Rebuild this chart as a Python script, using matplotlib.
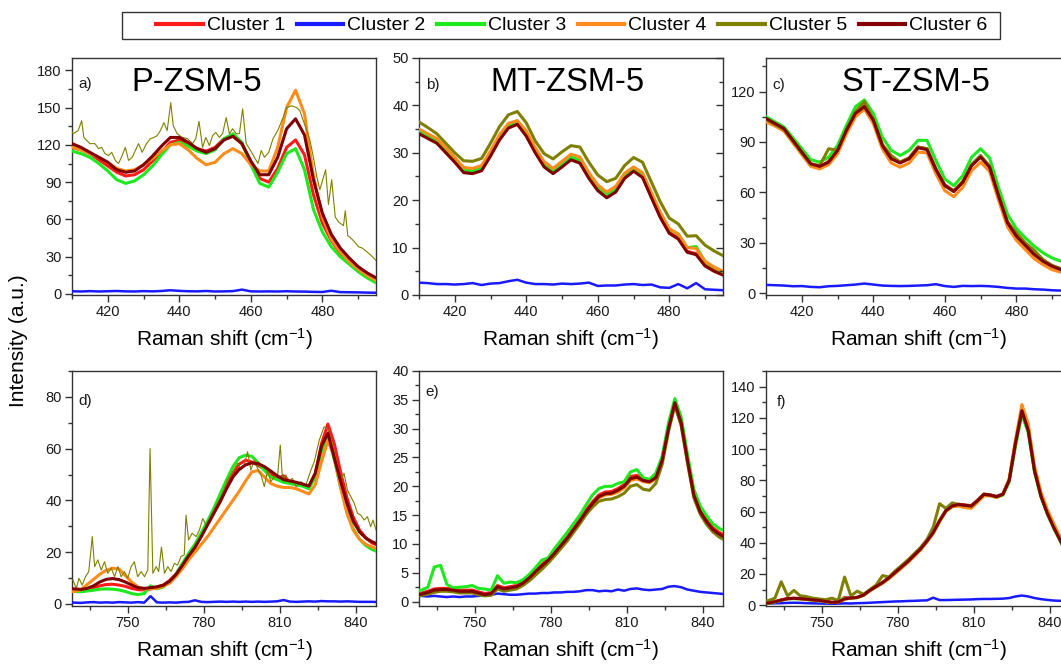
import matplotlib
matplotlib.use("Agg")
import matplotlib.pyplot as plt
from matplotlib.ticker import MultipleLocator
from matplotlib.lines import Line2D
from matplotlib.patches import Rectangle
import numpy as np

plt.rcParams["font.family"] = ["Liberation Sans", "DejaVu Sans"]
plt.rcParams["mathtext.fontset"] = "custom"
plt.rcParams["mathtext.rm"] = "Liberation Sans"
plt.rcParams["mathtext.default"] = "regular"

cluster_names = ["Cluster 1", "Cluster 2", "Cluster 3", "Cluster 4", "Cluster 5", "Cluster 6"]
cluster_colors = ["#ff1a1a", "#1a1aff", "#1ee81e", "#ff8c1a", "#808000", "#800000"]

# Raman shift grids (cm-1)
shift_low = np.arange(410, 495.1, 2.5)
shift_high = np.arange(726.5, 849.1, 2.5)

# ---- P-ZSM-5, 410-495 region ----
p_low_c1 = [118, 116, 113, 108, 103, 98, 95, 96, 100, 107, 114, 122, 124, 121, 117, 115, 118, 125, 127, 121,
            106, 93, 90, 101, 118, 124, 112, 80, 57, 43, 33, 26, 20, 15, 11]
p_low_c2 = [2.2, 2.0, 2.3, 2.0, 2.2, 2.4, 2.1, 2.0, 2.3, 2.1, 2.4, 3.0, 2.5, 2.2, 2.1, 2.4, 2.0, 2.1, 2.3, 3.5,
            2.1, 2.0, 2.1, 2.0, 2.2, 2.0, 1.9, 1.7, 1.6, 2.6, 1.5, 1.4, 1.3, 1.1, 1.0]
p_low_c3 = [115, 113, 110, 105, 99, 92, 89, 91, 96, 103, 112, 120, 122, 119, 115, 113, 116, 125, 129, 122,
            104, 89, 86, 98, 113, 117, 100, 68, 50, 38, 30, 24, 18, 13, 9]
p_low_c4 = [118, 116, 113, 110, 106, 101, 99, 100, 104, 109, 115, 120, 121, 116, 109, 104, 106, 113, 117, 113,
            104, 99, 99, 118, 150, 164, 145, 95, 62, 44, 34, 26, 20, 15, 11]
p_low_c6 = [121, 118, 114, 110, 106, 100, 98, 99, 104, 111, 119, 126, 126, 122, 117, 114, 117, 124, 127, 121,
            107, 96, 96, 110, 133, 141, 128, 92, 65, 48, 37, 29, 22, 17, 13]
# cluster 5 is a noisy single spectrum, sampled on its own points
p_low_c5_x = [409.0, 410.3, 411.7, 412.7, 413.3, 415.0, 416.4, 417.4, 418.3, 419.2, 420.2, 421.1, 422.1, 423.0,
              423.9, 424.9, 425.8, 426.8, 427.7, 428.6, 429.6, 430.8, 431.9, 432.9, 433.8, 434.7, 435.7, 436.6,
              437.6, 438.3, 439.4, 440.8, 442.3, 443.7, 444.6, 445.5, 446.5, 447.4, 448.4, 449.3, 450.2, 451.2,
              452.1, 453.1, 454.0, 454.9, 455.9, 456.8, 457.7, 458.7, 459.6, 461.0, 462.0, 462.9, 463.8, 465.0,
              466.2, 467.6, 469.0, 470.0, 471.4, 472.8, 473.7, 474.6, 475.6, 476.5, 477.5, 478.4, 479.3, 480.9,
              481.7, 482.6, 483.6, 484.5, 485.9, 486.4, 487.1, 488.1, 489.0, 490.1, 491.1, 492.0, 493.0, 494.0,
              495.0]
p_low_c5_y = [135.5, 129, 131.5, 139.5, 126, 121, 121, 117, 118, 113, 111.5, 114, 107.5, 105, 110.7, 118, 107.5,
              110, 115.5, 121, 114, 121, 125, 126, 127.5, 131.5, 138, 131.5, 154, 135.5, 129, 126, 125, 121, 125,
              139, 118, 126, 119.5, 127.5, 130, 126, 129, 142, 129, 133, 129, 129, 149, 121, 117, 110, 105, 115.5,
              110, 114, 125, 132, 142, 150, 151.5, 150, 147.6, 140, 132, 124, 110, 95, 84, 100, 72, 92, 62, 58,
              55, 67, 47, 44.6, 42, 38, 37, 35, 32.6, 30, 27]

# ---- MT-ZSM-5, 410-495 region ----
mt_low_c1 = [34.2, 33.2, 32.1, 30.2, 28.2, 26, 25.8, 26.4, 29.5, 32.9, 35.4, 36.2, 33.7, 30.2, 27.2, 25.8, 27.2,
             28.7, 28, 24.8, 22.2, 20.7, 21.9, 24.8, 26.3, 25, 20.7, 16.5, 13.2, 12, 9.2, 8.7, 6.3, 5.2, 4.4]
mt_low_c2 = [2.6, 2.5, 2.3, 2.3, 2.2, 2.3, 2.5, 2.1, 2.4, 2.5, 2.9, 3.2, 2.6, 2.3, 2.3, 2.2, 2.4, 2.3, 2.4, 2.6,
             1.9, 2.0, 2.0, 2.2, 2.3, 2.1, 2.2, 1.6, 1.5, 2.3, 1.4, 2.5, 1.2, 1.1, 1.0]
mt_low_c3 = [34.6, 33.6, 32.6, 30.7, 28.6, 26.4, 26.2, 26.8, 29.9, 33.3, 35.8, 36.6, 34.1, 30.6, 27.6, 26.2, 27.6,
             29.1, 28.4, 25.2, 22.7, 21.2, 22.4, 25.3, 26.8, 25.5, 21.2, 17.1, 13.8, 12.9, 10, 10.2, 7, 5.8, 4.8]
mt_low_c4 = [35, 34, 33, 31.1, 29, 26.9, 26.7, 27.3, 30.4, 33.8, 36.2, 36.8, 34.6, 31.1, 28.1, 26.7, 28.2,
             29.7, 29.1, 25.8, 23.2, 21.7, 22.9, 25.7, 27, 25.8, 21.6, 17.4, 14, 12.8, 10, 9.8, 7.1, 5.9, 5]
mt_low_c5 = [36.5, 35.3, 34, 32, 30, 28.3, 28.2, 28.8, 32, 35.5, 38, 38.7, 36.3, 32.5, 29.8, 28.7, 30.2, 31.5,
             31.2, 28, 25.3, 23.9, 24.6, 27.3, 29, 28, 23.8, 19.6, 16.2, 15, 12.4, 12.5, 10.5, 9.3, 8.3]
mt_low_c6 = [34, 33, 32, 30, 28, 25.8, 25.6, 26.2, 29.3, 32.7, 35.2, 36, 33.5, 30, 27, 25.6, 27, 28.5, 27.8,
             24.6, 22, 20.5, 21.7, 24.6, 26.1, 24.8, 20.5, 16.3, 13, 11.8, 9, 8.5, 6.1, 5, 4.2]

# ---- ST-ZSM-5, 410-495 region ----
st_low_c1 = [103, 100.5, 97.5, 90.5, 83.5, 77, 75, 78.5, 85.5, 97.5, 107.5, 111.5, 103.5, 88.5, 80.5, 78, 80.5,
             87, 86, 74, 64.5, 61, 66.5, 76.5, 81.5, 75.5, 58.5, 42.5, 34.5, 29, 23.5, 19.5, 16.5, 14.5, 13]
st_low_c2 = [5.0, 4.8, 4.6, 4.2, 4.3, 3.8, 3.6, 4.2, 4.4, 4.8, 5.2, 5.8, 5.2, 4.6, 4.4, 4.3, 4.4, 4.6, 4.8, 5.4,
             4.3, 3.8, 4.4, 4.3, 4.4, 4.2, 3.8, 3.2, 2.8, 2.8, 2.4, 2.2, 1.8, 1.6, 1.5]
st_low_c3 = [105, 102, 99, 92.5, 86, 79.5, 78, 81, 88, 100, 111, 115, 107, 93, 85, 82, 85, 91, 91, 79, 68, 64,
             70, 81, 86, 80.5, 63, 47, 38.5, 33, 28, 24, 21, 19, 17.5]
st_low_c4 = [102, 99.5, 96.5, 89.5, 82.5, 75.5, 74, 76.5, 83, 95, 105, 109.5, 101, 86, 77.5, 75, 77.5, 84, 83.5,
             71, 61, 57.5, 63, 73, 78, 72.5, 55.5, 39.5, 31.5, 26, 20.5, 17, 14, 12.5, 11]
st_low_c5 = [103.5, 100.5, 97.5, 90.5, 83.5, 77, 76, 86, 85, 97.5, 108, 114, 103, 88.5, 82, 78, 80.5, 87, 86,
             74, 64, 61, 66, 76.5, 82, 75.5, 58.5, 42.5, 36, 30, 25.5, 20, 16.5, 14.5, 13]
st_low_c6 = [104, 101, 98, 91, 84, 77, 75.5, 78, 85, 97, 107, 111, 103, 88, 80, 77.5, 80, 86.5, 85.5, 73.5, 64,
             60.5, 66, 76, 81, 75, 58, 42, 34, 28.5, 23, 19, 16, 14, 12.5]

# ---- P-ZSM-5, 728-848 region ----
p_high_c1 = [5.5, 5.2, 5.3, 5.7, 6.3, 7, 7.5, 7.6, 7.3, 6.8, 6, 5.5, 5.4, 5.8, 6.5, 7.3, 9, 11.5, 15, 18.7,
             22, 26.3, 31, 35.8, 40.5, 45.8, 50.5, 54, 55.5, 54.8, 53.5, 52, 50, 48.5, 49.5, 47, 46.5, 46, 45.5,
             50, 62, 69.5, 62, 51, 41, 33.5, 28.5, 25.5, 23.5, 22.5]
p_high_c2 = [0.6, 0.5, 0.4, 0.6, 0.7, 0.5, 0.6, 0.5, 0.7, 0.6, 0.5, 0.7, 0.5, 3.0, 0.6, 0.5, 0.6, 0.5, 0.7, 0.8,
             1.4, 0.8, 0.7, 0.8, 0.9, 0.8, 0.9, 0.8, 0.9, 0.8, 0.9, 0.8, 0.9, 1.0, 1.5, 0.9, 0.8, 0.9, 1.0, 0.9,
             1.1, 1.0, 1.0, 0.9, 1.0, 0.9, 0.8, 0.8, 0.8, 0.7]
p_high_c3 = [5, 4.8, 4.7, 5, 5.3, 5.7, 5.8, 5.7, 5.4, 4.8, 4, 3.6, 4, 7, 5.8, 6.5, 8.5, 11.5, 15.5, 19.5, 23,
             27.5, 32, 37, 42.5, 48, 53, 56.5, 57.5, 57, 54.5, 51.5, 49, 48, 47, 46.5, 46, 45.5, 44.5, 49, 59, 65,
             56, 45, 36, 29, 25, 22.5, 21, 20]
p_high_c4 = [5, 4.8, 5.5, 7.5, 9.5, 11.5, 13, 13.8, 13.5, 11, 8.5, 6.5, 5.8, 5.8, 6, 6.8, 8, 10.5, 13.5, 17, 20,
             23, 26, 29.5, 33, 36.5, 40, 43.5, 47.5, 51, 51.5, 49, 46.5, 45.5, 45, 45, 44.5, 43.5, 42.5, 46, 55,
             63, 57, 45, 35, 28.5, 25, 23, 22, 21]
p_high_c6 = [6, 5.8, 5.6, 6, 7, 8.5, 9.5, 9.8, 9.4, 8.5, 7.3, 6.3, 6, 6.3, 6.6, 7.2, 8.8, 11.3, 14.8, 18.5,
             21.8, 26, 30.5, 35, 39.5, 44.5, 49, 52, 53.7, 54.5, 54.2, 53, 51.3, 49.5, 48, 47.5, 47, 46.3, 45.5,
             50.5, 61, 66, 56.5, 47.5, 39, 32, 27.8, 25.4, 24, 23]
p_high_c5_x = [728.3, 729.7, 730.7, 732.0, 733.3, 734.6, 736.0, 736.9, 738.2, 739.5, 740.8, 742.1, 743.5, 744.8,
               746.1, 747.4, 748.7, 750.0, 751.3, 752.6, 753.9, 755.3, 756.6, 757.9, 758.8, 759.9, 761.2, 762.2,
               763.3, 764.5, 765.8, 767.1, 768.4, 769.7, 771.0, 772.3, 773.0, 774.0, 775.4, 777.0, 778.3, 779.6,
               780.9, 782.2, 784.8, 787.4, 789.4, 791.4, 793.4, 794.7, 796.0, 797.3, 798.6, 799.9, 801.2, 802.6,
               803.9, 805.2, 806.5, 807.8, 809.1, 810.2, 811.1, 812.4, 813.7, 815.0, 816.4, 818.3, 820.3, 822.3,
               823.6, 825.6, 827.5, 828.8, 830.2, 831.5, 832.8, 834.1, 835.4, 836.7, 838.1, 839.4, 840.7, 842.0,
               843.3, 844.6, 845.9, 846.8, 848.0]
p_high_c5_y = [9.3, 6, 9.9, 7.3, 10.5, 12.5, 26, 14.4, 17, 13.1, 16.3, 11.8, 13.8, 10.5, 14.4, 10.5, 12.5, 9.9,
               14.4, 16.3, 10.5, 12.5, 10.5, 13.1, 60, 11.8, 14.4, 12.5, 22, 11.8, 14.4, 12.5, 15.7, 15, 18.3,
               18.9, 34.3, 24.7, 27.3, 26, 28.6, 33, 30.5, 33, 38, 42.7, 47.9, 51, 54.3, 51.7, 53.6, 58.8, 51.7,
               55.6, 52.4, 49.8, 45.3, 51.7, 47.2, 49.1, 49.1, 61.4, 47.9, 49.8, 47.2, 48.5, 45.3, 47.2, 45.9,
               51.7, 54.9, 63.3, 68.4, 67.8, 64, 58.8, 53, 47.9, 50.4, 44, 41.4, 38.9, 35, 34.3, 32.4, 33.7, 29.8,
               32.4, 28.6]

# ---- MT-ZSM-5, 728-848 region ----
mt_high_c1 = [1.3, 1.5, 1.8, 2.2, 2.3, 2.3, 2.2, 2.0, 2.0, 2.0, 1.7, 1.4, 1.6, 2.8, 2.4, 2.6, 2.8, 3.4, 4.3, 5.4,
              6.4, 7.4, 8.6, 9.9, 11.2, 12.7, 14.3, 15.9, 17.3, 18.5, 19.0, 19.1, 19.6, 20.3, 21.7, 21.9, 21.3,
              21.1, 21.8, 24.8, 30.3, 34.7, 31.3, 24.8, 18.8, 15.9, 14.2, 12.8, 12.0, 11.4]
mt_high_c2 = [1.0, 1.0, 0.9, 1.0, 0.9, 0.8, 0.9, 0.8, 0.9, 0.9, 1.0, 1.1, 1.2, 1.4, 1.3, 1.2, 1.2, 1.3, 1.4, 1.4,
              1.5, 1.5, 1.6, 1.6, 1.7, 1.7, 1.8, 2.0, 2.0, 1.8, 1.9, 1.8, 2.1, 1.9, 2.2, 2.3, 2.1, 2.0, 2.1, 2.2,
              2.6, 2.7, 2.5, 2.1, 1.9, 1.7, 1.6, 1.5, 1.4, 1.3]
mt_high_c3 = [1.9, 2.0, 2.5, 6.0, 6.3, 3.0, 2.4, 2.5, 2.6, 2.8, 2.3, 2.2, 2.0, 4.5, 3.2, 3.4, 3.3, 3.8, 4.7, 5.9,
              7.2, 7.6, 9.2, 10.6, 12, 13.5, 15, 16.8, 18.5, 19.6, 20, 20, 20.5, 20.8, 22.5, 22.9, 21.5, 21.2,
              22.3, 25.2, 31, 35.2, 32, 25.5, 19.5, 16.6, 14.9, 13.5, 12.7, 12.2]
mt_high_c4 = [1.0, 1.2, 1.5, 1.9, 2.0, 2.0, 1.9, 1.7, 1.7, 1.7, 1.4, 1.1, 1.3, 2.4, 2.1, 2.3, 2.5, 3.1, 4.0, 5.1,
              6.1, 7.1, 8.3, 9.6, 10.9, 12.4, 13.9, 15.5, 16.8, 18.0, 18.5, 18.6, 19.0, 19.7, 21.0, 21.3, 20.8,
              20.6, 21.3, 24.3, 29.8, 34.2, 30.8, 24.3, 18.3, 15.4, 13.7, 12.3, 11.5, 10.9]
mt_high_c5 = [0.9, 1.1, 1.3, 1.6, 1.8, 1.8, 1.7, 1.5, 1.5, 1.5, 1.2, 1.0, 1.1, 2.2, 1.8, 2.0, 2.2, 2.8, 3.6, 4.6,
              5.6, 6.7, 7.9, 9.2, 10.5, 12, 13.5, 15.1, 16.4, 17.4, 17.7, 17.8, 18.2, 18.8, 20.0, 20.3, 19.5,
              19.3, 20.5, 23.8, 29.5, 34.0, 30.5, 24, 18, 15.2, 13.4, 12.1, 11.2, 10.6]
mt_high_c6 = [1.1, 1.3, 1.6, 2.0, 2.1, 2.1, 2.0, 1.8, 1.8, 1.8, 1.5, 1.2, 1.4, 2.6, 2.2, 2.4, 2.6, 3.2, 4.1, 5.2,
              6.2, 7.2, 8.4, 9.7, 11, 12.5, 14, 15.6, 17, 18.2, 18.7, 18.8, 19.3, 20, 21.3, 21.6, 21, 20.8, 21.5,
              24.5, 30, 34.5, 31, 24.5, 18.5, 15.6, 13.9, 12.5, 11.7, 11.1]

# ---- ST-ZSM-5, 728-848 region ----
st_high_c1 = [1.3, 1.5, 2.3, 3.4, 4.3, 4.5, 4.3, 3.9, 3.5, 3.1, 2.5, 1.9, 2.1, 5, 4.7, 5.1, 6.6, 9.6, 12.1, 14.7,
              17.7, 21.2, 24.7, 28.2, 32.2, 36.3, 41.3, 46.8, 54.3, 60.8, 63.8, 64.7, 64.2, 63.8, 67.3, 71.2,
              70.7, 69.7, 71.3, 80.5, 105, 125.5, 113, 87, 70.5, 59.5, 50.5, 42.5, 34.5, 28.5]
st_high_c2 = [1.0, 1.0, 1.2, 1.3, 1.5, 1.6, 1.5, 1.3, 1.2, 1.1, 1.0, 0.9, 1.0, 1.2, 1.1, 1.3, 1.4, 1.6, 1.8, 2.0,
              2.2, 2.4, 2.5, 2.7, 2.8, 3.0, 3.1, 4.8, 3.3, 3.3, 3.4, 3.5, 3.6, 3.7, 3.9, 4.0, 4.0, 4.1, 4.2, 4.6,
              5.6, 6.2, 5.6, 4.6, 3.9, 3.4, 3.0, 2.8, 2.6, 2.4]
st_high_c3 = [1.0, 1.2, 2.0, 3.1, 4.0, 4.2, 4.0, 3.6, 3.2, 2.8, 2.2, 1.6, 2.5, 4.5, 4.4, 4.8, 6.3, 9.3, 11.8, 14.3,
              17.3, 20.8, 24.3, 27.8, 31.8, 35.8, 40.8, 46.3, 53.8, 60.5, 63.5, 64, 63.2, 63, 66.8, 70.8, 70.3,
              69, 70.5, 79, 102, 122, 110.5, 85, 69.5, 58.5, 49.5, 41.5, 33.5, 27.5]
st_high_c4 = [1.1, 1.3, 2.1, 3.2, 4.1, 4.3, 4.1, 3.7, 3.3, 2.9, 2.3, 1.7, 1.9, 3.8, 4.5, 4.9, 6.4, 9.2, 11.6, 14,
              17, 20.4, 23.8, 27.3, 31.3, 35.4, 40.4, 46, 53.5, 60, 63, 63.5, 62.5, 62, 66, 70, 70, 69, 71, 81,
              106, 128.5, 116, 89, 72.5, 61.5, 52.5, 44, 36, 30]
st_high_c5 = [2.5, 3.0, 4.5, 15, 6, 9.5, 6, 5.5, 4.5, 4, 3.5, 4.5, 3, 18, 6, 9, 7, 10, 13, 19, 18, 22, 25.5, 29,
              33, 37, 42, 50, 65, 62, 65.5, 64.5, 64, 63.5, 67, 71, 70.5, 69.5, 71, 80, 104, 124.5, 112, 86, 70,
              59, 50, 42, 34, 28]
st_high_c6 = [1.2, 1.4, 2.2, 3.3, 4.2, 4.4, 4.2, 3.8, 3.4, 3.0, 2.4, 1.8, 2.0, 4, 4.6, 5, 6.5, 9.5, 12, 14.5,
              17.5, 21, 24.5, 28, 32, 36, 41, 46.5, 54, 60.5, 63.5, 64.5, 64, 63.5, 67, 71, 70.5, 69.5, 71, 80,
              104, 124.5, 112, 86, 70, 59, 50, 42, 34, 28]


def style_axis(ax, xlim, ylim, xmaj, xmin, ymaj, ymin):
    ax.set_xlim(*xlim)
    ax.set_ylim(*ylim)
    ax.xaxis.set_major_locator(MultipleLocator(xmaj))
    ax.xaxis.set_minor_locator(MultipleLocator(xmin))
    ax.yaxis.set_major_locator(MultipleLocator(ymaj))
    ax.yaxis.set_minor_locator(MultipleLocator(ymin))
    ax.tick_params(which="both", direction="out", width=1, colors="#333333", labelcolor="#1a1a1a",
                   labelsize=10.5)
    ax.tick_params(which="major", length=5)
    ax.tick_params(which="minor", length=3)
    ax.tick_params(axis="x", pad=2)
    ax.tick_params(axis="y", pad=2.5)
    for s in ax.spines.values():
        s.set_color("#333333")
        s.set_linewidth(1)
    ax.set_xlabel("Raman shift (cm$^{-1}$)", fontsize=15, labelpad=5.5)


def draw_clusters(ax, x, series, noisy=None):
    for i, y in enumerate(series):
        if y is None:
            xn, yn = noisy
            ax.plot(xn, yn, color=cluster_colors[i], lw=0.8, zorder=3 + i)
        else:
            lw = 1.8 if i == 1 else 2.2
            ax.plot(x, y, color=cluster_colors[i], lw=lw, zorder=3 + i)


fig = plt.figure(figsize=(10.61, 6.66), dpi=100)

lefts = [0.0679, 0.3949, 0.7220]
w = 0.2865
top_b, top_h = 0.5571, 0.3559
bot_b, bot_h = 0.0901, 0.3529

panels = [
    dict(pos=(lefts[0], top_b), h=top_h, x=shift_low,
         ys=[p_low_c1, p_low_c2, p_low_c3, p_low_c4, None, p_low_c6], noisy=(p_low_c5_x, p_low_c5_y),
         xlim=(410, 495), ylim=(-0.8, 190), t=(20, 10, 30, 15), title="P-ZSM-5", tx=0.411, tag="a)", tagy=0.89),
    dict(pos=(lefts[1], top_b), h=top_h, x=shift_low,
         ys=[mt_low_c1, mt_low_c2, mt_low_c3, mt_low_c4, mt_low_c5, mt_low_c6], noisy=None,
         xlim=(410, 495), ylim=(0, 50), t=(20, 10, 10, 5), title="MT-ZSM-5", tx=0.49, tag="b)", tagy=0.886),
    dict(pos=(lefts[2], top_b), h=top_h, x=shift_low,
         ys=[st_low_c1, st_low_c2, st_low_c3, st_low_c4, st_low_c5, st_low_c6], noisy=None,
         xlim=(410, 495), ylim=(-1, 140), t=(20, 10, 30, 15), title="ST-ZSM-5", tx=0.493, tag="c)", tagy=0.886),
    dict(pos=(lefts[0], bot_b), h=bot_h, x=shift_high,
         ys=[p_high_c1, p_high_c2, p_high_c3, p_high_c4, None, p_high_c6], noisy=(p_high_c5_x, p_high_c5_y),
         xlim=(728, 848), ylim=(-0.8, 90), t=(30, 15, 20, 10), title=None, tx=0, tag="d)", tagy=0.872),
    dict(pos=(lefts[1], bot_b), h=bot_h, x=shift_high,
         ys=[mt_high_c1, mt_high_c2, mt_high_c3, mt_high_c4, mt_high_c5, mt_high_c6], noisy=None,
         xlim=(728, 848), ylim=(-0.75, 40), t=(30, 15, 5, 2.5), title=None, tx=0, tag="e)", tagy=0.91),
    dict(pos=(lefts[2], bot_b), h=bot_h, x=shift_high,
         ys=[st_high_c1, st_high_c2, st_high_c3, st_high_c4, st_high_c5, st_high_c6], noisy=None,
         xlim=(728, 848), ylim=(-0.5, 150), t=(30, 15, 20, 10), title=None, tx=0, tag="f)", tagy=0.868),
]

for k, p in enumerate(panels):
    ax = fig.add_axes([p["pos"][0], p["pos"][1], w, p["h"]])
    draw_clusters(ax, p["x"], p["ys"], p["noisy"])
    style_axis(ax, p["xlim"], p["ylim"], *p["t"])
    if p["title"]:
        ax.text(p["tx"], 0.895, p["title"], transform=ax.transAxes, ha="center", va="center", fontsize=23.5)
    tagx = 0.036 if p["tag"] == "f)" else 0.022
    ax.text(tagx, p["tagy"], p["tag"], transform=ax.transAxes, ha="left", va="center", fontsize=11,
            color="#1a1a1a")
    if p["tag"] == "b)":
        # mirrored inward ticks on the right spine
        rt = ax.twinx()
        rt.set_ylim(*p["ylim"])
        rt.yaxis.set_major_locator(MultipleLocator(10))
        rt.yaxis.set_minor_locator(MultipleLocator(5))
        rt.tick_params(axis="y", which="both", direction="in", labelright=False, colors="#333333", width=1)
        rt.tick_params(which="major", length=5)
        rt.tick_params(which="minor", length=3)
        for s in rt.spines.values():
            s.set_visible(False)

fig.text(0.017, 0.489, "Intensity (a.u.)", rotation=90, ha="center", va="center", fontsize=15)

handles = [Line2D([], [], color=c, lw=3) for c in cluster_colors]
fig.legend(handles, cluster_names, loc="center", bbox_to_anchor=(0.539, 0.9617), ncol=6, frameon=False,
           fontsize=14, handlelength=2.4, handletextpad=0.2, columnspacing=0.6)
fig.add_artist(Rectangle((0.115, 0.9414), 0.8275, 0.0405, transform=fig.transFigure, fill=False,
                         edgecolor="#333333", lw=1))

fig.savefig("out.png", dpi=100)
